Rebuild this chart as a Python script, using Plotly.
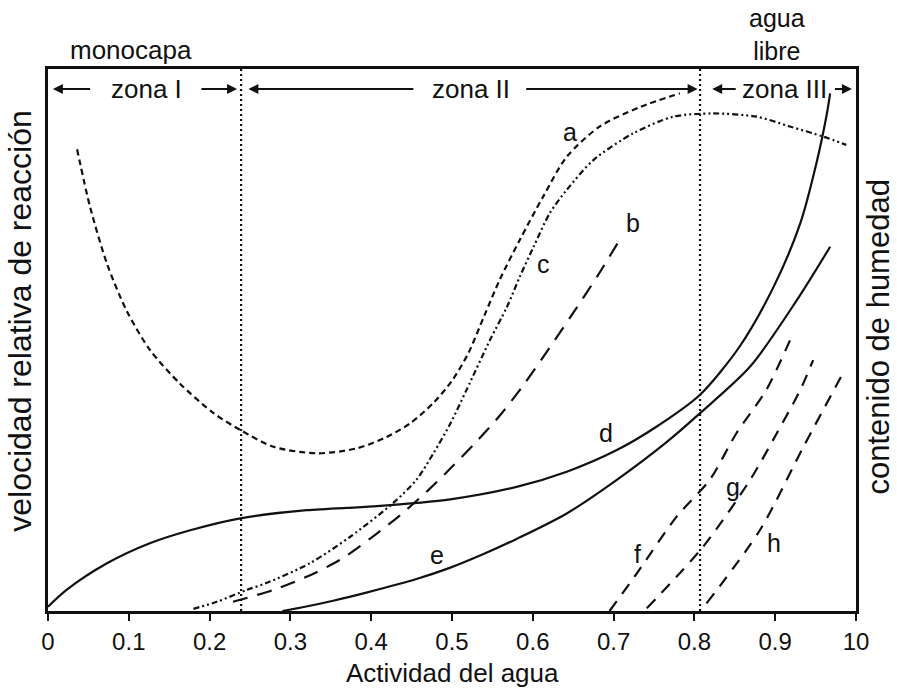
import plotly.graph_objects as go

# ---- data (x = actividad del agua, y = relative value 0..1) ----
a_x = [0.036, 0.052, 0.073, 0.097, 0.126, 0.163, 0.205, 0.238, 0.279, 0.333, 0.382, 0.419, 0.448, 0.477,
       0.500, 0.520, 0.540, 0.559, 0.584, 0.613, 0.642, 0.683, 0.733, 0.782]
a_y = [0.852, 0.746, 0.641, 0.555, 0.482, 0.420, 0.365, 0.334, 0.303, 0.291, 0.300, 0.321, 0.346, 0.384,
       0.425, 0.475, 0.545, 0.611, 0.685, 0.765, 0.838, 0.894, 0.930, 0.955]

b_x = [0.229, 0.279, 0.320, 0.361, 0.400, 0.436, 0.470, 0.500, 0.530, 0.560, 0.590, 0.620, 0.650, 0.680, 0.710]
b_y = [0.017, 0.039, 0.063, 0.094, 0.135, 0.177, 0.222, 0.266, 0.312, 0.362, 0.420, 0.484, 0.550, 0.618, 0.691]

c_x = [0.180, 0.209, 0.246, 0.271, 0.324, 0.374, 0.427, 0.456, 0.477, 0.498, 0.518, 0.547, 0.568, 0.584,
       0.601, 0.621, 0.642, 0.675, 0.724, 0.774, 0.823, 0.877, 0.918, 0.960, 0.988]
c_y = [0.004, 0.017, 0.039, 0.052, 0.088, 0.137, 0.199, 0.242, 0.291, 0.346, 0.408, 0.500, 0.561, 0.617,
       0.672, 0.734, 0.777, 0.832, 0.881, 0.912, 0.918, 0.912, 0.894, 0.875, 0.860]

d_x = [0.0, 0.023, 0.073, 0.126, 0.176, 0.238, 0.320, 0.403, 0.498, 0.580, 0.642, 0.704, 0.753, 0.807,
       0.856, 0.898, 0.931, 0.951, 0.964, 0.968]
d_y = [0.008, 0.039, 0.088, 0.125, 0.149, 0.171, 0.186, 0.193, 0.206, 0.229, 0.257, 0.297, 0.340, 0.399,
       0.488, 0.598, 0.715, 0.826, 0.918, 0.955]

e_x = [0.290, 0.312, 0.353, 0.394, 0.456, 0.498, 0.539, 0.580, 0.642, 0.704, 0.766, 0.807, 0.869, 0.927, 0.968]
e_y = [0.000, 0.006, 0.019, 0.034, 0.059, 0.080, 0.105, 0.133, 0.180, 0.242, 0.312, 0.365, 0.451, 0.574, 0.672]

f_x = [0.695, 0.729, 0.778, 0.819, 0.852, 0.889, 0.922]
f_y = [0.000, 0.070, 0.174, 0.242, 0.328, 0.408, 0.512]
g_x = [0.741, 0.811, 0.869, 0.902, 0.931, 0.947]
g_y = [0.005, 0.119, 0.242, 0.328, 0.408, 0.463]
h_x = [0.815, 0.881, 0.935, 0.984]
h_y = [0.014, 0.149, 0.303, 0.439]

zone_bounds = [0.239, 0.807]

tick_vals = [0, 0.1, 0.2, 0.3, 0.4, 0.5, 0.6, 0.7, 0.8, 0.9, 1.0]
tick_text = ["0", "0.1", "0.2", "0.3", "0.4", "0.5", "0.6", "0.7", "0.8", "0.9", "10"]

curve_labels = ["a", "b", "c", "d", "e", "f", "g", "h"]
label_x = [0.646, 0.724, 0.613, 0.691, 0.481, 0.729, 0.848, 0.898]
label_y = [0.884, 0.715, 0.641, 0.328, 0.103, 0.106, 0.229, 0.125]

zone_names = ["zona I", "zona II", "zona III"]
zone_text_x = [0.1225, 0.523, 0.912]
# arrows: (head_x, tail_x)
zone_arrows = [(0.006, 0.054), (0.234, 0.188), (0.248, 0.454), (0.804, 0.590), (0.822, 0.853), (0.995, 0.972)]
zone_row_y = 0.963

FONT = "Liberation Sans, Arial, Helvetica, sans-serif"
BLACK = "#111111"

fig = go.Figure()

def add_line(x, y, dash, width=2.2, shape="spline"):
    fig.add_trace(go.Scatter(x=x, y=y, mode="lines",
                             line=dict(color=BLACK, width=width, dash=dash, shape=shape, smoothing=0.8),
                             hoverinfo="skip", showlegend=False))

add_line(a_x, a_y, "6px,4px")
add_line(b_x, b_y, "15px,10px")
add_line(c_x, c_y, "6px,3px,2px,3px,2px,3px")
add_line(d_x, d_y, "solid")
add_line(e_x, e_y, "solid")
add_line(f_x, f_y, "12px,9px")
add_line(g_x, g_y, "12px,9px")
add_line(h_x, h_y, "12px,9px")

for zb in zone_bounds:
    add_line([zb, zb], [0, 1], "2px,3px", width=2.2, shape="linear")

annotations = []
for t, x, y in zip(curve_labels, label_x, label_y):
    annotations.append(dict(x=x, y=y, xref="x", yref="y", text=t, showarrow=False,
                            xanchor="center", yanchor="middle",
                            font=dict(family=FONT, size=25, color=BLACK)))

for t, x in zip(zone_names, zone_text_x):
    annotations.append(dict(x=x, y=zone_row_y, xref="x", yref="y", text=t, showarrow=False,
                            xanchor="center", yanchor="middle",
                            font=dict(family=FONT, size=26, color=BLACK)))

for head, tail in zone_arrows:
    annotations.append(dict(x=head, y=zone_row_y, ax=tail, ay=zone_row_y, xref="x", yref="y",
                            axref="x", ayref="y", text="", showarrow=True, arrowhead=2,
                            arrowsize=1, arrowwidth=2, arrowcolor=BLACK, standoff=0, startstandoff=0))

def paper_text(x, y, text, size, angle=0):
    return dict(x=x, y=y, xref="paper", yref="paper", text=text, showarrow=False,
                xanchor="center", yanchor="middle", textangle=angle,
                font=dict(family=FONT, size=size, color=BLACK))

annotations += [
    paper_text(0.103, 1.035, "monocapa", 26),
    paper_text(0.902, 1.064, "agua<br>libre", 25),
    paper_text(0.500, -0.114, "Actividad del agua", 26),
    paper_text(-0.035, 0.535, "velocidad relativa de reacción", 32, -90),
    paper_text(1.0275, 0.505, "contenido de humedad", 31, -90),
]

fig.update_layout(
    width=897, height=691,
    margin=dict(l=48, r=41, t=69, b=80),
    paper_bgcolor="white", plot_bgcolor="white",
    showlegend=False,
    annotations=annotations,
    xaxis=dict(range=[0, 1], tickvals=tick_vals, ticktext=tick_text, ticks="outside", ticklen=7,
               tickwidth=2, tickcolor=BLACK, showline=True, linecolor=BLACK, linewidth=2.5,
               mirror=True, showgrid=False, zeroline=False, automargin=False,
               tickfont=dict(family=FONT, size=24, color=BLACK)),
    yaxis=dict(range=[0, 1], showticklabels=False, ticks="", showline=True, linecolor=BLACK,
               linewidth=2.5, mirror=True, showgrid=False, zeroline=False, automargin=False),
)

# remove the browser's default 8px page margin so the figure fills the window exactly
fig.write_html("out.html", config={"displayModeBar": False},
               post_script="document.body.style.margin='0';document.body.style.overflow='hidden';")
